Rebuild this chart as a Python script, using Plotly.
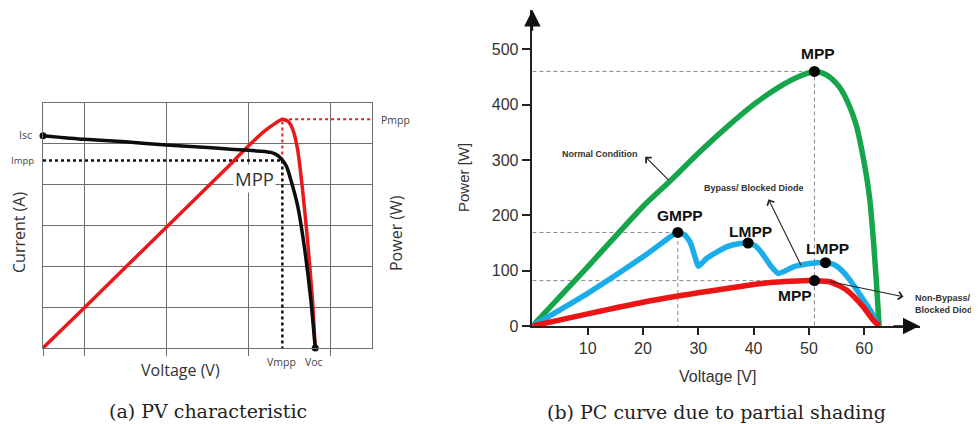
import plotly.graph_objects as go

W, H = 979, 424
OFF = 8  # page body margin offset of the rendered figure


def px(x):
    return (x - OFF) / W


def py(y):
    return 1 - (y - OFF) / H


# ---------------- data: panel (a) PV characteristic (grid units) ----------------
iv_voltage = [0, 1, 2, 3, 4, 4.56, 5.0, 5.3, 5.54, 5.7, 5.82, 5.92, 6.02, 6.19, 6.35, 6.51, 6.62]
iv_current = [5.2, 5.11, 5.05, 4.97, 4.91, 4.87, 4.84, 4.82, 4.79, 4.72, 4.6, 4.45, 4.14, 3.49, 2.51, 1.21, 0]

pv_voltage = [0, 1, 3, 4.56, 4.8, 5.1, 5.37, 5.6, 5.82, 5.96, 6.07, 6.19, 6.31, 6.43, 6.55, 6.62]
pv_power = [0, 0.98, 2.96, 4.5, 4.75, 5.05, 5.3, 5.47, 5.6, 5.55, 5.36, 4.87, 3.89, 2.67, 1.21, 0]

v_mpp_a = 5.82
i_mpp_a = 4.59
p_mpp_a = 5.6
isc_a = 5.2
voc_a = 6.62
a_xmax = 8
a_ymax = 6
a_xgrid = [0, 1, 3, 5, 7]
a_ygrid = [0, 1, 2, 3, 4, 5, 6]

# ---------------- data: panel (b) PC curve under partial shading ----------------
normal_v = [0, 10, 20, 24.9, 30, 35, 40, 44.8, 48, 51, 52.5, 54, 55.5, 57, 58.5, 60, 61, 61.7, 62.2, 62.7]
normal_p = [0, 107, 216, 262, 312, 358, 400, 433, 450, 460, 457, 448, 432, 405, 365, 295, 230, 150, 80, 0]

bypass_v = [0, 10, 20, 23.7, 25.2, 26.3, 27.5, 28.5, 29.5, 30.0, 31.5, 35.1, 37.5, 39.0, 40.3, 41.5, 43.0, 44.5,
            47.2, 50.2, 53.0, 54.5, 56, 57.5, 59, 60.5, 61.7, 62.5]
bypass_p = [0, 59, 125, 152, 163, 169, 165, 152, 122, 108, 122, 143, 149, 150, 145, 132, 110, 95,
            107, 113, 114.5, 111, 100, 82, 60, 38, 18, 0]

nonbypass_v = [0, 10, 20, 30, 40, 43.6, 48, 51, 53.8, 56.8, 59.8, 61.6, 62.7]
nonbypass_p = [0, 22, 43, 60, 75, 79, 81.5, 82, 80, 65, 35, 11, 0]

point_v = [51, 26.3, 39, 53, 51]
point_p = [460, 169, 150, 114.5, 82]
point_labels = ["MPP", "GMPP", "LMPP", "LMPP", "MPP"]

b_xticks = [10, 20, 30, 40, 50, 60]
b_yticks = [0, 100, 200, 300, 400, 500]
b_xmax = 70
b_ymax = 571

SANS_A = "Open Sans"
SANS_B = "Liberation Sans"
SERIF = "DejaVu Serif"

fig = go.Figure()

# ---- panel (a) traces ----
fig.add_trace(go.Scatter(x=[0, v_mpp_a], y=[i_mpp_a, i_mpp_a], mode="lines",
                         line=dict(color="#111", width=2.5, dash="dot"), xaxis="x", yaxis="y"))
fig.add_trace(go.Scatter(x=[v_mpp_a, v_mpp_a], y=[i_mpp_a, 0], mode="lines",
                         line=dict(color="#111", width=2.5, dash="dot"), xaxis="x", yaxis="y"))
fig.add_trace(go.Scatter(x=[v_mpp_a, v_mpp_a, a_xmax], y=[i_mpp_a, p_mpp_a, p_mpp_a], mode="lines",
                         line=dict(color="#e0201e", width=2, dash="dot"), xaxis="x", yaxis="y"))
fig.add_trace(go.Scatter(x=pv_voltage, y=pv_power, mode="lines", line_shape="spline",
                         line=dict(color="#e8191b", width=3.5, smoothing=0.6), xaxis="x", yaxis="y",
                         cliponaxis=False))
fig.add_trace(go.Scatter(x=iv_voltage, y=iv_current, mode="lines", line_shape="spline",
                         line=dict(color="#0d0d0d", width=3.5, smoothing=0.6), xaxis="x", yaxis="y",
                         cliponaxis=False))
fig.add_trace(go.Scatter(x=[0, voc_a], y=[isc_a, 0], mode="markers",
                         marker=dict(color="#0d0d0d", size=7), xaxis="x", yaxis="y", cliponaxis=False))

# ---- panel (b) traces ----
dash_x = [0, point_v[0], point_v[0], None, 0, point_v[1], point_v[1], None, 0, point_v[4]]
dash_y = [point_p[0], point_p[0], 0, None, point_p[1], point_p[1], 0, None, point_p[4], point_p[4]]
fig.add_trace(go.Scatter(x=dash_x, y=dash_y, mode="lines",
                         line=dict(color="#8a8a8a", width=1, dash="4px,3px"), xaxis="x2", yaxis="y2"))
fig.add_trace(go.Scatter(x=normal_v, y=normal_p, mode="lines", line_shape="spline",
                         line=dict(color="#17a54b", width=5.5, smoothing=0.6), xaxis="x2", yaxis="y2",
                         cliponaxis=False))
fig.add_trace(go.Scatter(x=bypass_v, y=bypass_p, mode="lines", line_shape="spline",
                         line=dict(color="#1badea", width=5.5, smoothing=0.5), xaxis="x2", yaxis="y2",
                         cliponaxis=False))
fig.add_trace(go.Scatter(x=nonbypass_v, y=nonbypass_p, mode="lines", line_shape="spline",
                         line=dict(color="#ec1515", width=5.5, smoothing=0.6), xaxis="x2", yaxis="y2",
                         cliponaxis=False))
fig.add_trace(go.Scatter(x=point_v, y=point_p, mode="markers",
                         marker=dict(color="#000", size=11), xaxis="x2", yaxis="y2", cliponaxis=False))

grid_col = "#6e6e6e"
red_axis = "#e58585"

fig.update_layout(
    width=W, height=H, margin=dict(l=0, r=0, t=0, b=0),
    paper_bgcolor="white", plot_bgcolor="rgba(0,0,0,0)", showlegend=False,
    xaxis=dict(domain=[px(43), px(372)], range=[0, a_xmax], tickvals=a_xgrid, showgrid=True,
               gridcolor=grid_col, gridwidth=1.3, ticks="outside", ticklen=7, tickcolor=grid_col,
               tickwidth=1.3, showticklabels=False, zeroline=False, showline=True, mirror=True,
               linecolor=grid_col, linewidth=1.3, anchor="y", automargin=False),
    yaxis=dict(domain=[py(348), py(103)], range=[0, a_ymax], tickvals=a_ygrid, showgrid=True,
               gridcolor=grid_col, gridwidth=1.3, ticks="", showticklabels=False, zeroline=False,
               showline=True, mirror=True, linecolor=grid_col, linewidth=1.3, anchor="x",
               automargin=False),
    yaxis3=dict(overlaying="y", anchor="x", side="right", range=[0, a_ymax], showline=True,
                linecolor=red_axis, linewidth=1.3, ticks="outside", tickvals=a_ygrid[:-1], ticklen=8,
                tickcolor=red_axis, tickwidth=1.2, showticklabels=False, showgrid=False, zeroline=False,
                automargin=False),
    xaxis2=dict(domain=[px(532.4), px(919.5)], range=[0, b_xmax], anchor="y2", tickvals=b_xticks,
                ticks="outside", ticklen=7, tickwidth=1.5, tickcolor="#222", showline=True,
                linecolor="#222", linewidth=1.5, showgrid=False, zeroline=False, automargin=False,
                tickfont=dict(family=SANS_B, size=16, color="#333")),
    yaxis2=dict(domain=[py(326), py(10)], range=[0, b_ymax], anchor="x2", tickvals=b_yticks,
                ticks="outside", ticklen=9, tickwidth=1.5, tickcolor="#222", showline=True,
                linecolor="#222", linewidth=1.5, showgrid=False, zeroline=False, automargin=False,
                tickfont=dict(family=SANS_B, size=16, color="#333")),
)

ann = []


def text(xp, yp, s, size, family, color="#333", xanchor="center", yanchor="middle", textangle=0,
         bold=False, **kw):
    if bold:
        s = "<b>" + s + "</b>"
    ann.append(dict(x=px(xp), y=py(yp), xref="paper", yref="paper", text=s, showarrow=False,
                    xanchor=xanchor, yanchor=yanchor, textangle=textangle,
                    font=dict(family=family, size=size, color=color), **kw))


# panel (a) texts
text(34, 135.5, "Isc", 10.5, SANS_A, "#444", xanchor="right")
text(35, 160.5, "Impp", 9.5, SANS_A, "#444", xanchor="right", borderpad=0)
text(379, 119.5, "Pmpp", 10.5, SANS_A, "#444", xanchor="left")
text(281, 362, "Vmpp", 10.5, SANS_A, "#444")
text(314, 362, "Voc", 10.5, SANS_A, "#444")
text(180, 370, "Voltage (V)", 16, SANS_A, "#333")
text(19, 233, "Current (A)", 16, SANS_A, "#333", textangle=-90)
text(396, 233, "Power (W)", 16, SANS_A, "#333", textangle=-90)
text(254, 178.5, "MPP", 18.5, SANS_A, "#333", bgcolor="white", borderpad=1)
text(208, 411, "(a) PV characteristic", 19, SERIF, "#222")

# panel (b) texts
text(463, 178, "Power [W]", 15, SANS_B, "#333", textangle=-90)
text(717, 376, "Voltage [V]", 16, SANS_B, "#333")
text(716, 412, "(b) PC curve due to partial shading", 19, SERIF, "#222")
text(600, 154.5, "Normal Condition", 9, SANS_B, "#333", bold=True)
text(754, 188, "Bypass/ Blocked Diode", 9, SANS_B, "#333", bold=True)
text(913, 304, "Non-Bypass/<br>Blocked Diode", 9, SANS_B, "#333", xanchor="left", bold=True, align="left")

label_pos = [(818, 53), (680, 215), (750, 231), (827, 248), (795, 295)]
for (lx, ly), lab in zip(label_pos, point_labels):
    text(lx, ly, lab, 15.5, SANS_B, "#111", bold=True)


def arrow(x, y, ax, ay, head, size, width, color):
    ann.append(dict(x=x, y=y, ax=ax, ay=ay, xref="x2", yref="y2", axref="x2", ayref="y2", text="",
                    showarrow=True, arrowhead=head, arrowsize=size, arrowwidth=width, arrowcolor=color))


# axis arrows
arrow(0, b_ymax, 0, b_ymax - 40, 2, 2.2, 1.5, "#111")
arrow(b_xmax, 0, b_xmax - 5, 0, 2, 2.2, 1.5, "#111")
# pointer arrows
arrow(20.4, 306, 24.9, 261, 4, 1.4, 1.1, "#222")
arrow(42.7, 229, 48.7, 107, 4, 1.4, 1.1, "#222")
arrow(67.1, 53, 53.5, 81, 4, 1.4, 1.1, "#222")

fig.update_layout(annotations=ann)
fig.write_html("out.html")
